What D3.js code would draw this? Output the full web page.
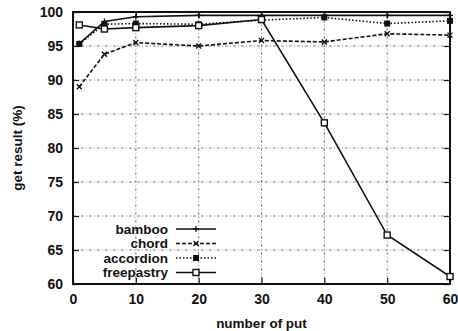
<!DOCTYPE html>
<html>
<head>
<meta charset="utf-8">
<script src="https://cdn.jsdelivr.net/npm/d3@7"></script>
<style>
  body { margin: 0; background: #fff; }
  svg { display: block; font-family: "Liberation Sans", Arial, sans-serif; }
  .tick-label { font-size: 14px; font-weight: bold; fill: #111; }
  .legend-label { font-size: 13.5px; font-weight: bold; fill: #111; }
  .axis-title { font-size: 13.5px; font-weight: bold; fill: #111; }
  .grid line { stroke: #666; stroke-width: 0.8; stroke-dasharray: 3 2 1 2; }
</style>
</head>
<body>
<svg id="chart" width="458" height="331"></svg>
<script>
const xValues = [1, 5, 10, 20, 30, 40, 50, 60];
const bamboo = [95.35, 98.6, 99.3, 99.5, 99.5, 99.5, 99.5, 99.5];
const chord = [89.0, 93.8, 95.5, 95.0, 95.8, 95.6, 96.8, 96.6];
const accordion = [95.3, 98.2, 98.3, 98.2, 98.8, 99.2, 98.3, 98.7];
const freepastry = [98.1, 97.5, 97.7, 98.0, 98.9, 83.7, 67.2, 61.1];
const xTicks = [0, 10, 20, 30, 40, 50, 60];
const yTicks = [60, 65, 70, 75, 80, 85, 90, 95, 100];

const seriesList = [
  { name: "bamboo", values: bamboo, dash: null, marker: "plus" },
  { name: "chord", values: chord, dash: "4 2", marker: "cross" },
  { name: "accordion", values: accordion, dash: "1.5 2", marker: "star" },
  { name: "freepastry", values: freepastry, dash: null, marker: "square" },
];

const svg = d3.select("#chart");
const margin = { top: 12, right: 8, bottom: 47, left: 73 };
const width = 458 - margin.left - margin.right;
const height = 331 - margin.top - margin.bottom;

const root = svg.append("g").attr("transform", `translate(${margin.left},${margin.top})`);

const x = d3.scaleLinear().domain([0, 60]).range([0, width]);
const y = d3.scaleLinear().domain([60, 100]).range([height, 0]);

// grid
const grid = root.append("g").attr("class", "grid");
grid.selectAll("line.v")
  .data(xTicks.slice(1, -1))
  .join("line")
  .attr("class", "v")
  .attr("x1", (d) => x(d)).attr("x2", (d) => x(d))
  .attr("y1", 0).attr("y2", height);
grid.selectAll("line.h")
  .data(yTicks.slice(1, -1))
  .join("line")
  .attr("class", "h")
  .attr("x1", 0).attr("x2", width)
  .attr("y1", (d) => y(d)).attr("y2", (d) => y(d));

// axes with inward ticks on all four sides
const xAxisB = root.append("g").attr("transform", `translate(0,${height})`)
  .call(d3.axisBottom(x).tickValues(xTicks).tickSize(-6).tickPadding(10));
const xAxisT = root.append("g")
  .call(d3.axisTop(x).tickValues(xTicks).tickSize(-6).tickFormat(""));
const yAxisL = root.append("g")
  .call(d3.axisLeft(y).tickValues(yTicks).tickSize(-6).tickPadding(10));
const yAxisR = root.append("g").attr("transform", `translate(${width},0)`)
  .call(d3.axisRight(y).tickValues(yTicks).tickSize(-6).tickFormat(""));

[xAxisB, xAxisT, yAxisL, yAxisR].forEach((g) => {
  g.select(".domain").remove();
  g.selectAll(".tick line").attr("stroke", "#111").attr("stroke-width", 1.2);
  g.selectAll(".tick text").attr("class", "tick-label").attr("font-size", null).attr("font-family", null);
});

root.append("rect")
  .attr("x", 0).attr("y", 0)
  .attr("width", width).attr("height", height)
  .attr("fill", "none").attr("stroke", "#111").attr("stroke-width", 2);

// axis titles
svg.append("text").attr("class", "axis-title")
  .attr("x", margin.left + width / 2).attr("y", 328)
  .attr("text-anchor", "middle").text("number of put");
svg.append("text").attr("class", "axis-title")
  .attr("transform", `translate(22,${margin.top + height / 2}) rotate(-90)`)
  .attr("text-anchor", "middle").text("get result (%)");

const line = d3.line().x((d) => x(d.x)).y((d) => y(d.y));

function drawMarker(g, type, cx, cy) {
  if (type === "plus") {
    g.append("path").attr("d", `M${cx - 3},${cy}H${cx + 3}M${cx},${cy - 3}V${cy + 3}`)
      .attr("stroke", "#111").attr("stroke-width", 1.3);
  } else if (type === "cross") {
    g.append("path").attr("d", `M${cx - 2.5},${cy - 2.5}L${cx + 2.5},${cy + 2.5}M${cx - 2.5},${cy + 2.5}L${cx + 2.5},${cy - 2.5}`)
      .attr("stroke", "#111").attr("stroke-width", 1.4);
  } else if (type === "star") {
    g.append("rect").attr("x", cx - 3).attr("y", cy - 3).attr("width", 6).attr("height", 6)
      .attr("fill", "#111");
  } else {
    g.append("rect").attr("x", cx - 3).attr("y", cy - 3).attr("width", 6).attr("height", 6)
      .attr("fill", "#fff").attr("stroke", "#111").attr("stroke-width", 1.4);
  }
}

seriesList.forEach((s) => {
  const pts = xValues.map((xv, i) => ({ x: xv, y: s.values[i] }));
  const g = root.append("g");
  g.append("path").datum(pts)
    .attr("d", line)
    .attr("fill", "none")
    .attr("stroke", "#111")
    .attr("stroke-width", 1.6)
    .attr("stroke-dasharray", s.dash);
  pts.forEach((p) => drawMarker(g, s.marker, x(p.x), y(p.y)));
});

// legend
const legend = root.append("g").attr("transform", `translate(0,${y(70)})`);
seriesList.forEach((s, i) => {
  const ly = 13 + i * 14.5;
  legend.append("text").attr("class", "legend-label")
    .attr("x", 95).attr("y", ly).attr("dy", "0.35em")
    .attr("text-anchor", "end").text(s.name);
  legend.append("line")
    .attr("x1", 103).attr("x2", 143).attr("y1", ly).attr("y2", ly)
    .attr("stroke", "#111").attr("stroke-width", 1.6)
    .attr("stroke-dasharray", s.dash);
  drawMarker(legend, s.marker, 123, ly);
});
</script>
</body>
</html>
